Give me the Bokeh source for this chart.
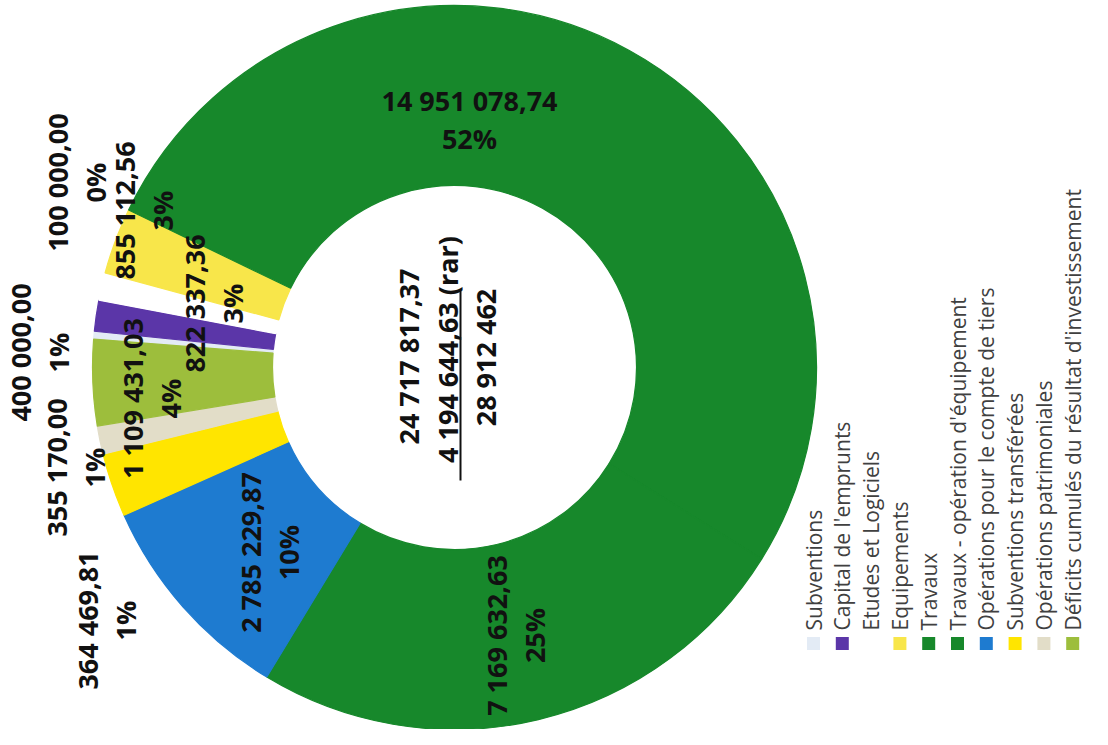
import numpy as np
from bokeh.plotting import figure
from bokeh.models import Range1d
from bokeh.core.properties import value
from bokeh.embed import file_html
from bokeh.resources import INLINE

# ---------------- data ----------------
categories = [
    "Subventions",
    "Capital de l'emprunts",
    "Etudes et Logiciels",
    "Equipements",
    "Travaux",
    "Travaux - opération d'équipement",
    "Opérations pour le compte de tiers",
    "Subventions transférées",
    "Opérations patrimoniales",
    "Déficits cumulés du résultat d'investissement",
]
amounts = [100000.00, 400000.00, 355170.00, 855112.56, 14951078.74,
           7169632.63, 2785229.87, 822337.36, 364469.81, 1109431.03]
colors = ["#E3EBF5", "#5B36A8", "#FFFFFF", "#F8E64A", "#17882B",
          "#17882B", "#1E7BD0", "#FFE500", "#E2DDC8", "#9DBE3C"]
realised_total = 24717817.37
rar_total = 4194644.63

# ---------------- helpers ----------------
def fr(v, dec=2):
    s = f"{v:,.{dec}f}"
    return s.replace(",", " ").replace(".", ",")

W, H = 1092, 729
def Y(iy):  # page pixel row -> data y (y up)
    return 745 - iy

p = figure(width=W, height=H, x_range=Range1d(8, 1100), y_range=Range1d(8, 737),
           x_axis_type=None, y_axis_type=None, toolbar_location=None,
           output_backend="svg", min_border=0, outline_line_color=None,
           background_fill_color="white", border_fill_color="white")
p.grid.visible = False

# ---------------- donut ----------------
amt = np.array(amounts)
total = amt.sum()
frac = amt / total
cx, cy = 462, Y(375)
R_out, R_in = 362, 182
start0 = np.radians(175.5)
cum = np.cumsum(frac)
a_from = start0 - 2 * np.pi * (cum - frac)
a_to = start0 - 2 * np.pi * cum
p.annular_wedge(x=cx, y=cy, inner_radius=R_in, outer_radius=R_out,
                start_angle=a_to, end_angle=a_from, direction="anticlock",
                fill_color=colors, line_color=colors, line_width=1.2)

# ---------------- data labels ----------------
label_pos = [(65, 190), (28, 360), (64, 475), (132, 218), (477, 108),
             (504, 643), (258, 560), (202, 311), (95, 628), (140, 406)]
label_ang = [90, 90, 90, 90, 0, 90, 90, 90, 90, 90]
pct = [f"{round(f * 100):.0f}%" for f in frac]
l1x, l1y, l1t, l1a, l2x, l2y, l2t = [], [], [], [], [], [], []
for (ix, iy), ang, v, pc in zip(label_pos, label_ang, amounts, pct):
    a = np.radians(ang)
    l1x.append(ix); l1y.append(Y(iy)); l1t.append(fr(v)); l1a.append(a)
    l2x.append(ix + 38 * np.sin(a)); l2y.append(Y(iy) - 38 * np.cos(a)); l2t.append(pc)
for xs, ys, ts in ((l1x, l1y, l1t), (l2x, l2y, l2t)):
    p.text(x=xs, y=ys, text=ts, angle=l1a, text_align="center", text_baseline="middle",
           text_font=value("Open Sans"), text_font_style="bold", text_font_size="27px",
           text_color="#111111")

# ---------------- centre sum ----------------
centre_txt = [fr(realised_total), fr(rar_total) + " (rar)", fr(realised_total + rar_total, 0)]
centre_pos = [(416, 364), (455, 357), (493, 365)]
p.text(x=[c[0] for c in centre_pos], y=[Y(c[1]) for c in centre_pos], text=centre_txt,
       angle=np.pi / 2, text_align="center", text_baseline="middle",
       text_font=value("Open Sans"), text_font_style="bold", text_font_size="27px",
       text_color="#111111")
p.segment(x0=[468], y0=[Y(298)], x1=[468], y1=[Y(488)], line_color="#111111", line_width=2)

# ---------------- legend ----------------
leg_x = [821 + 28.8 * i for i in range(len(categories))]
p.rect(x=leg_x, y=[Y(651)] * len(categories), width=13, height=13,
       fill_color=colors, line_color=None)
p.text(x=leg_x, y=[Y(638)] * len(categories), text=categories, angle=np.pi / 2,
       text_align="left", text_baseline="middle", text_font=value("Open Sans"),
       text_font_size="21px", text_color="#404040")

open("out.html", "w").write(file_html(p, INLINE))
